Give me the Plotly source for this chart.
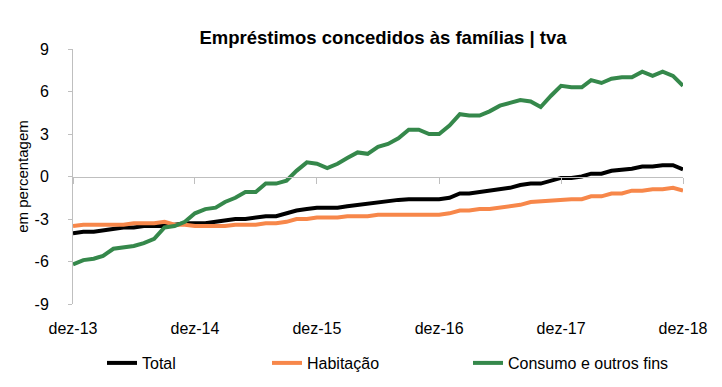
import pandas as pd
import plotly.graph_objects as go

months = pd.date_range("2013-12-01", "2018-12-01", freq="MS")

total = [-4.0, -3.9, -3.9, -3.8, -3.7, -3.6, -3.6, -3.5, -3.5, -3.5, -3.4, -3.3, -3.3,
         -3.3, -3.2, -3.1, -3.0, -3.0, -2.9, -2.8, -2.8, -2.6, -2.4, -2.3, -2.2,
         -2.2, -2.2, -2.1, -2.0, -1.9, -1.8, -1.7, -1.65, -1.6, -1.6, -1.6, -1.6,
         -1.5, -1.2, -1.2, -1.1, -1.0, -0.9, -0.8, -0.6, -0.5, -0.5, -0.3, -0.1,
         -0.1, 0.0, 0.2, 0.2, 0.4, 0.45, 0.55, 0.7, 0.7, 0.8, 0.8, 0.5]

habitacao = [-3.5, -3.4, -3.4, -3.4, -3.4, -3.4, -3.3, -3.3, -3.3, -3.2, -3.4, -3.4, -3.5,
             -3.5, -3.5, -3.5, -3.4, -3.4, -3.4, -3.3, -3.3, -3.2, -3.0, -3.0, -2.9,
             -2.9, -2.9, -2.8, -2.8, -2.8, -2.7, -2.7, -2.7, -2.7, -2.7, -2.7, -2.7,
             -2.6, -2.4, -2.4, -2.3, -2.3, -2.2, -2.1, -2.0, -1.8, -1.75, -1.7, -1.6,
             -1.6, -1.6, -1.4, -1.4, -1.2, -1.2, -1.0, -1.0, -0.9, -0.9, -0.8, -1.0]

consumo = [-6.2, -5.9, -5.8, -5.6, -5.1, -5.0, -4.9, -4.7, -4.4, -3.6, -3.5, -3.2, -2.6,
           -2.3, -2.2, -1.8, -1.5, -1.1, -1.1, -0.5, -0.5, -0.3, 0.4, 1.0, 0.9,
           0.6, 0.9, 1.3, 1.7, 1.6, 2.1, 2.3, 2.7, 3.3, 3.3, 3.0, 3.0,
           3.6, 4.4, 4.3, 4.3, 4.6, 5.0, 5.2, 5.4, 5.3, 4.9, 5.7, 6.4,
           6.3, 6.3, 6.8, 6.6, 6.9, 7.0, 7.0, 7.4, 7.1, 7.4, 7.1, 6.4]

series_names = ["Total", "Habitação", "Consumo e outros fins"]
series_colors = ["#000000", "#F7874A", "#35884B"]

x_tick_dates = ["2013-12-01", "2014-12-01", "2015-12-01", "2016-12-01", "2017-12-01", "2018-12-01"]
x_tick_labels = ["dez-13", "dez-14", "dez-15", "dez-16", "dez-17", "dez-18"]
y_tick_vals = [-9, -6, -3, 0, 3, 6, 9]
y_tick_labels = ["-9", "-6", "-3", "0", "3", "6", "9"]

FONT = "Liberation Sans, Arial, sans-serif"
GRAY = "#BFBFBF"
W, H = 714, 379  # page body adds an 8px offset

fig = go.Figure()
legend_ids = ["legend", "legend2", "legend3"]
for vals, name, color, lg in zip([total, habitacao, consumo], series_names, series_colors, legend_ids):
    fig.add_trace(go.Scatter(x=months, y=vals, mode="lines", name=name,
                             line=dict(color=color, width=4), legend=lg))
# empty helper trace so the tick-label axis (x2) is rendered
fig.add_trace(go.Scatter(x=[], y=[], xaxis="x2", showlegend=False, hoverinfo="skip"))

xr = [months[0], months[-1]]
fig.update_layout(
    width=W, height=H,
    margin=dict(l=65, r=39, t=41, b=83, autoexpand=False),
    paper_bgcolor="white", plot_bgcolor="white",
    font=dict(family=FONT, size=16, color="#000000"),
    title=dict(text="<b>Empréstimos concedidos às famílias | tva</b>",
               x=375 / W, xanchor="center", y=1 - 30 / H, yanchor="middle",
               font=dict(family=FONT, size=18.5, color="#000000")),
    xaxis=dict(type="date", range=xr, anchor="free", position=0.5,
               showline=True, linecolor=GRAY, linewidth=1,
               ticks="outside", ticklen=6, tickcolor=GRAY, tickwidth=1,
               tickvals=x_tick_dates, showticklabels=False,
               showgrid=False, zeroline=False, automargin=False),
    xaxis2=dict(type="date", range=xr, overlaying="x", anchor="y", side="bottom",
                showline=False, ticks="", tickvals=x_tick_dates, ticktext=x_tick_labels,
                showgrid=False, zeroline=False, ticklabelstandoff=13, automargin=False,
                tickfont=dict(family=FONT, size=16)),
    yaxis=dict(range=[-9, 9], tickvals=y_tick_vals, ticktext=y_tick_labels,
               showline=True, linecolor=GRAY, linewidth=1,
               ticks="outside", ticklen=4, tickcolor=GRAY,
               showgrid=False, zeroline=False, ticklabelstandoff=16, automargin=False,
               tickfont=dict(family=FONT, size=16),
               title=dict(text="em percentagem", font=dict(family=FONT, size=15), standoff=2)),
    showlegend=True,
)
legend_x_px = [94, 259, 460]
for lg, px in zip(legend_ids, legend_x_px):
    fig.update_layout({lg: dict(orientation="h", xref="container", yref="container",
                                x=px / W, xanchor="left",
                                y=1 - 355 / H, yanchor="middle",
                                font=dict(family=FONT, size=16), bgcolor="rgba(0,0,0,0)")})

fig.write_html("out.html")
